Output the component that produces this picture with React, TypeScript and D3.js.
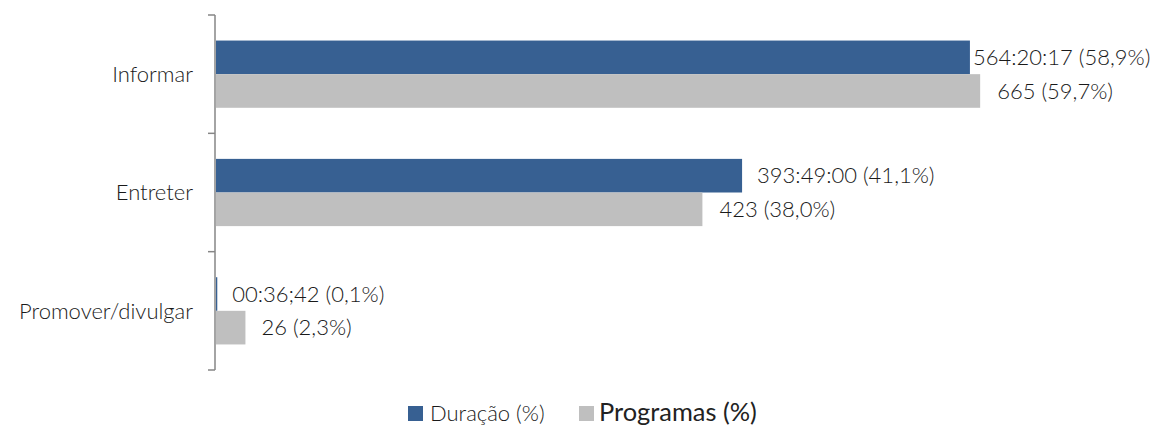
import React from "react";
import * as d3 from "d3";

const categories = ["Informar", "Entreter", "Promover/divulgar"];
const duracaoPct = [58.9, 41.1, 0.1];
const programasPct = [59.7, 38.0, 2.3];
const duracaoLabels = ["564:20:17 (58,9%)", "393:49:00 (41,1%)", "00:36;42 (0,1%)"];
const programasLabels = ["665 (59,7%)", "423 (38,0%)", "26 (2,3%)"];
const seriesNames = ["Duração (%)", "Programas (%)"];

const W = 1152;
const H = 425;
const BLUE = "#376092";
const GRAY = "#BFBFBF";
const AXIS = "#868686";
const TEXT = "#1a1a1a";
const FONT = "Lato, 'Open Sans', sans-serif";
const FS = 22;

export default function App() {
  const x = d3.scaleLinear().domain([0, 60]).range([216, 984]);
  const y = d3.scaleBand<string>().domain(categories).range([15, 370]);
  const inner = d3.scaleBand<string>().domain(["d", "p"]).range([0, y.bandwidth()]).paddingOuter(0.76).paddingInner(0);
  const blueDx = [3, 15, 15];
  const grayDx = [17, 17, 16];

  return (
    <svg width={W} height={H} style={{ position: "absolute", left: 0, top: 0, background: "#fff" }}>
      {categories.map((c, i) => {
        const y0 = y(c)!;
        const bd = y0 + inner("d")!;
        const bp = y0 + inner("p")!;
        const bh = inner.bandwidth();
        return (
          <g key={c}>
            <rect x={x(0)} y={bd} width={x(duracaoPct[i]) - x(0)} height={bh} fill={BLUE} />
            <rect x={x(0)} y={bp} width={x(programasPct[i]) - x(0)} height={bh} fill={GRAY} />
            <text x={x(duracaoPct[i]) + blueDx[i]} y={bd + bh / 2} dy="0.35em" fontFamily={FONT} fontWeight={300} fontSize={FS} fill={TEXT}>
              {duracaoLabels[i]}
            </text>
            <text x={x(programasPct[i]) + grayDx[i]} y={bp + bh / 2} dy="0.35em" fontFamily={FONT} fontWeight={300} fontSize={FS} fill={TEXT}>
              {programasLabels[i]}
            </text>
            <text x={193} y={y0 + y.bandwidth() / 2} dy="0.35em" textAnchor="end" fontFamily={FONT} fontWeight={300} fontSize={FS} fill={TEXT}>
              {c}
            </text>
          </g>
        );
      })}
      <line x1={215} x2={215} y1={15} y2={370} stroke={AXIS} strokeWidth={1.5} />
      {[...categories.map((c) => y(c)!), 370].map((t, i) => (
        <line key={i} x1={208} x2={215} y1={t} y2={t} stroke={AXIS} strokeWidth={1.5} />
      ))}
      <rect x={408} y={406} width={15} height={15} fill={BLUE} />
      <text x={430} y={413} dy="0.35em" fontFamily={FONT} fontWeight={300} fontSize={FS} fill={TEXT}>{seriesNames[0]}</text>
      <rect x={579} y={406} width={15} height={15} fill={GRAY} />
      <text x={599} y={412} dy="0.35em" fontFamily={FONT} fontWeight={400} fontSize={25.4} fill="#222">{seriesNames[1]}</text>
    </svg>
  );
}
